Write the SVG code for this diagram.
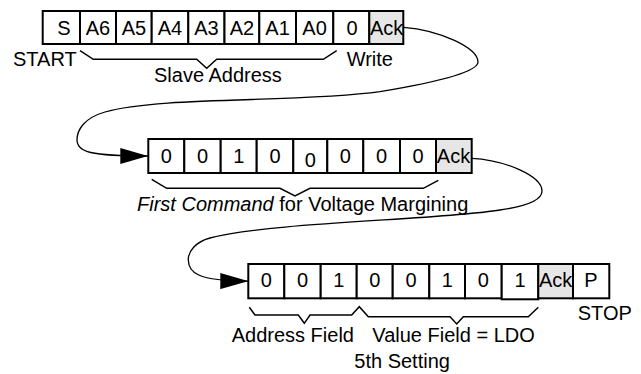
<svg xmlns="http://www.w3.org/2000/svg" width="641" height="374" viewBox="0 0 641 374">
<defs>
<style>
.c{fill:#fff;stroke:#000;stroke-width:2}
.a{fill:#e6e6e6;stroke:#000;stroke-width:2}
.t{font-family:"Liberation Sans",Arial,sans-serif;font-size:20px;fill:#000;text-anchor:middle}
.l{font-family:"Liberation Sans",Arial,sans-serif;font-size:20px;fill:#000}
.b{fill:none;stroke:#000;stroke-width:1.5}
.w{fill:none;stroke:#000;stroke-width:1.3}
</style>
<marker id="ah" markerWidth="28" markerHeight="16" refX="28" refY="8" orient="auto" markerUnits="userSpaceOnUse">
<path d="M0,0 L28,8 L0,16 Z" fill="#000"/>
</marker>
</defs>
<rect width="641" height="374" fill="#fff"/>

<g id="row1">
<rect class="c" x="42.7" y="11" width="37.3" height="33"/>
<rect class="c" x="80" y="11" width="36" height="33"/>
<rect class="c" x="116" y="11" width="35.7" height="33"/>
<rect class="c" x="151.7" y="11" width="36.6" height="33"/>
<rect class="c" x="188.3" y="11" width="36.2" height="33"/>
<rect class="c" x="224.5" y="11" width="34.8" height="33"/>
<rect class="c" x="259.3" y="11" width="36.7" height="33"/>
<rect class="c" x="296" y="11" width="37.3" height="33"/>
<rect class="c" x="333.3" y="11" width="36" height="33"/>
<rect class="a" x="369.3" y="11" width="34" height="33"/>
<text class="t" x="64" y="35">S</text>
<text class="t" x="98" y="35">A6</text>
<text class="t" x="134" y="35">A5</text>
<text class="t" x="170" y="35">A4</text>
<text class="t" x="206.4" y="35">A3</text>
<text class="t" x="242" y="35">A2</text>
<text class="t" x="277.6" y="35">A1</text>
<text class="t" x="314.6" y="35">A0</text>
<text class="t" x="352" y="35">0</text>
<text class="l" x="370" y="35">Ack</text>
</g>

<g id="row2">
<rect class="c" x="148.3" y="139" width="36" height="34"/>
<rect class="c" x="184.3" y="139" width="36.4" height="34"/>
<rect class="c" x="220.7" y="139" width="36" height="34"/>
<rect class="c" x="256.7" y="139" width="36.6" height="34"/>
<rect class="c" x="293.3" y="139" width="34" height="34"/>
<rect class="c" x="327.3" y="139" width="36" height="34"/>
<rect class="c" x="363.3" y="139" width="36.7" height="34"/>
<rect class="c" x="400" y="139" width="36" height="34"/>
<rect class="a" x="436" y="139" width="35.7" height="34"/>
<text class="t" x="166.3" y="162.5">0</text>
<text class="t" x="202.5" y="162.5">0</text>
<text class="t" x="238.7" y="162.5">1</text>
<text class="t" x="275" y="162.5">0</text>
<text class="t" x="310.3" y="166.5">0</text>
<text class="t" x="345.3" y="162.5">0</text>
<text class="t" x="381.6" y="162.5">0</text>
<text class="t" x="418" y="162.5">0</text>
<text class="l" x="436.8" y="162.5">Ack</text>
</g>

<g id="row3">
<rect class="c" x="248.3" y="264" width="36" height="34.3"/>
<rect class="c" x="284.3" y="264" width="36.4" height="34.3"/>
<rect class="c" x="320.7" y="264" width="36" height="34.3"/>
<rect class="c" x="356.7" y="264" width="36" height="34.3"/>
<rect class="c" x="392.7" y="264" width="36.6" height="34.3"/>
<rect class="c" x="429.3" y="264" width="35.7" height="34.3"/>
<rect class="c" x="465" y="264" width="36.7" height="34.3"/>
<rect class="c" x="501.7" y="264" width="36.6" height="35.3"/>
<rect class="a" x="538.3" y="264" width="34.7" height="34.3"/>
<rect class="c" x="573" y="264" width="36.3" height="34.3"/>
<text class="t" x="266.3" y="287">0</text>
<text class="t" x="302.5" y="287">0</text>
<text class="t" x="338.7" y="287">1</text>
<text class="t" x="374.7" y="287">0</text>
<text class="t" x="411" y="287">0</text>
<text class="t" x="447.2" y="287">1</text>
<text class="t" x="483.4" y="287">0</text>
<text class="t" x="520" y="287">1</text>
<text class="l" x="539" y="287">Ack</text>
<text class="t" x="591" y="287">P</text>
</g>

<g id="braces">
<path class="b" d="M80,50.7 L93.3,59.3 L196.7,59.3 L206.7,68.3 L216.7,59.3 L323.3,59.3 L336.7,50.7"/>
<path class="b" d="M151.7,179.3 L166.7,188.3 L280,188.3 L295,196 L310,188.3 L423.3,188.3 L438.3,180.3"/>
<path class="b" d="M249.3,307.3 L255,315 L298.3,315 L304.3,323.3 L310,315 L351.7,315 L359.3,306.7 L368.3,316.7 L450,316.7 L456.7,324 L463.3,316.7 L528.3,316.7 L538.3,307.3"/>
</g>

<g id="labels">
<text class="l" x="13" y="65.5">START</text>
<text class="l" x="346.7" y="65.5">Write</text>
<text class="l" x="154" y="81.5">Slave Address</text>
<text class="l" x="137" y="210.7"><tspan font-style="italic">First Command</tspan> for Voltage Margining</text>
<text class="l" x="231.7" y="341.7">Address Field</text>
<text class="l" x="372.3" y="341.7">Value Field = LDO</text>
<text class="l" x="354.3" y="368.3">5th Setting</text>
<text class="l" x="577.7" y="320">STOP</text>
</g>

<g id="connectors">
<path class="w" marker-end="url(#ah)" d="M403.3,27.3 C440,30 478,48 478,62 C478,70 450,80 380,91.7 C300,103 160,96 105,112 C84,118 77,130 77,140 C77,152 90,156 148.3,156"/>
<path class="w" marker-end="url(#ah)" d="M471.7,158.3 C505,160 542,176 542,191 C542,200 528,206 500,210 C440,220 270,222 210,238 C195,242 188,252 188.3,260 C188.5,272 196,281 248.3,281.2"/>
</g>
</svg>
